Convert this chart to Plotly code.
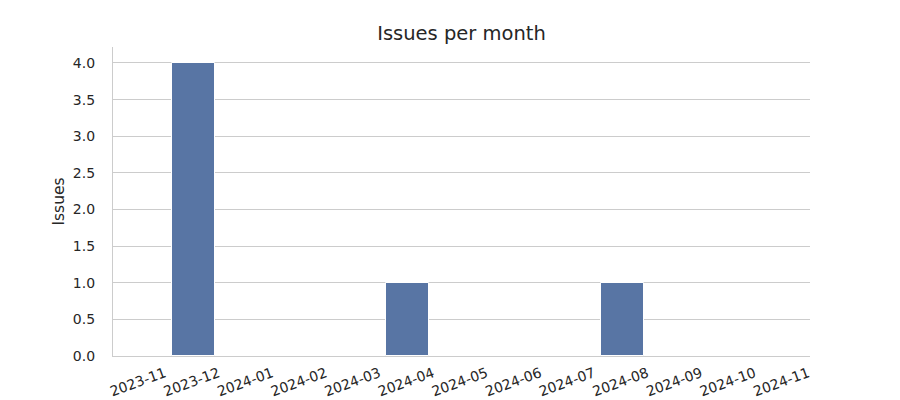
import plotly.graph_objects as go

months = ["2023-11", "2023-12", "2024-01", "2024-02", "2024-03", "2024-04", "2024-05",
          "2024-06", "2024-07", "2024-08", "2024-09", "2024-10", "2024-11"]
issues = [0, 4, 0, 0, 0, 1, 0, 0, 0, 1, 0, 0, 0]
y_ticks = [0.0, 0.5, 1.0, 1.5, 2.0, 2.5, 3.0, 3.5, 4.0]

FONT = "DejaVu Sans"

fig = go.Figure()
fig.add_trace(go.Bar(
    x=months, y=issues, width=0.8,
    marker=dict(color="#5875a4", line=dict(color="white", width=1)),
))

fig.update_layout(
    width=900, height=400,
    margin=dict(l=113, r=90, t=47, b=44),
    paper_bgcolor="white", plot_bgcolor="white",
    font=dict(family=FONT, color="#262626"),
    title=dict(text="Issues per month", x=0.5, xanchor="center", y=1 - 33 / 400,
               yanchor="middle", xref="paper", font=dict(size=19.5, color="#262626")),
    showlegend=False,
    bargap=0,
)
fig.update_xaxes(
    type="category", range=[-0.5, 12.5], automargin=False,
    tickangle=-20, tickfont=dict(size=14, color="#262626"),
    showgrid=False, showline=True, linecolor="#cccccc", linewidth=1.25,
    ticks="", ticklabelshift=25, ticklabelstandoff=3,
)
fig.update_yaxes(
    range=[0, 4.218], tickvals=y_ticks, ticktext=[f"{v:.1f}" for v in y_ticks],
    tickfont=dict(size=14, color="#262626"), automargin=False,
    showgrid=True, gridcolor="#cccccc", gridwidth=1,
    showline=True, linecolor="#cccccc", linewidth=1.25,
    ticks="", ticklabelstandoff=14, zeroline=False,
    title=dict(text="Issues", font=dict(size=15.5, color="#262626"), standoff=4),
)

fig.write_html("out.html")
